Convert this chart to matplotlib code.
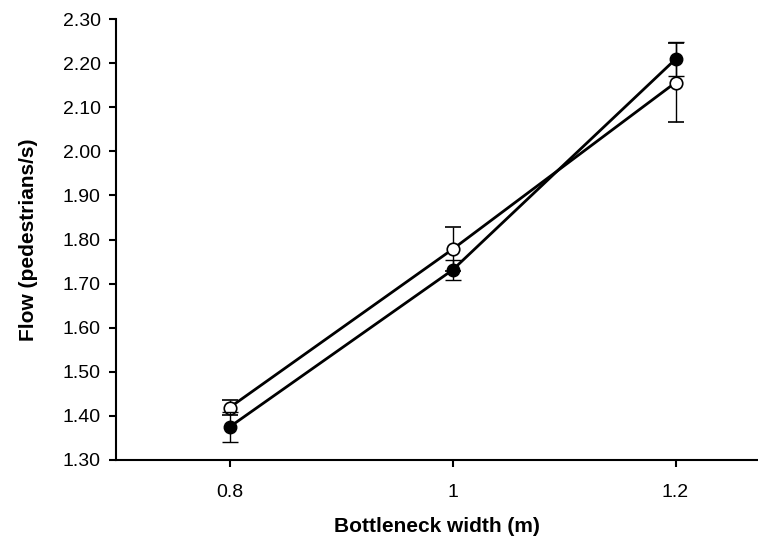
import numpy as np
import matplotlib
matplotlib.use("Agg")
import matplotlib.pyplot as plt

plt.rcParams['font.family'] = ['Liberation Sans', 'DejaVu Sans']

# bottleneck widths (m)
widths = [0.8, 1.0, 1.2]

# filled markers series
flow_filled = [1.375, 1.731, 2.209]
err_filled = [0.034, 0.022, 0.038]

# open markers series
flow_open = [1.419, 1.778, 2.156]
err_open = [0.018, 0.050, 0.090]

xticks = [0.8, 1.0, 1.2]
xticklabels = ['0.8', '1', '1.2']
yticks = np.arange(1.30, 2.301, 0.10)

fig = plt.figure(figsize=(7.58, 5.45), dpi=100)
ax = fig.add_axes([0.153, 0.156, 0.847, 0.809])

ax.errorbar(widths, flow_open, yerr=err_open, color='black', lw=2,
            marker='o', ms=9, mfc='white', mec='black', mew=1.2,
            ecolor='black', elinewidth=1, capsize=6, capthick=1, zorder=3)
ax.errorbar(widths, flow_filled, yerr=err_filled, color='black', lw=2,
            marker='o', ms=9, mfc='black', mec='black',
            ecolor='black', elinewidth=1, capsize=6, capthick=1, zorder=4)

ax.set_xlim(0.698, 1.274)
ax.set_ylim(1.30, 2.30)
ax.set_xticks(xticks)
ax.set_xticklabels(xticklabels)
ax.set_yticks(yticks)
ax.set_yticklabels(['%.2f' % v for v in yticks])

for s in ['top', 'right']:
    ax.spines[s].set_visible(False)
for s in ['left', 'bottom']:
    ax.spines[s].set_linewidth(1.5)
ax.tick_params(axis='both', direction='out', length=5, width=1.5,
               labelsize=14, pad=6)
ax.tick_params(axis='x', pad=12)

ax.set_xlabel('Bottleneck width (m)', fontsize=15, fontweight='bold', labelpad=12)
ax.set_ylabel('Flow (pedestrians/s)', fontsize=15, fontweight='bold', labelpad=18)

fig.savefig('out.png', dpi=100)
